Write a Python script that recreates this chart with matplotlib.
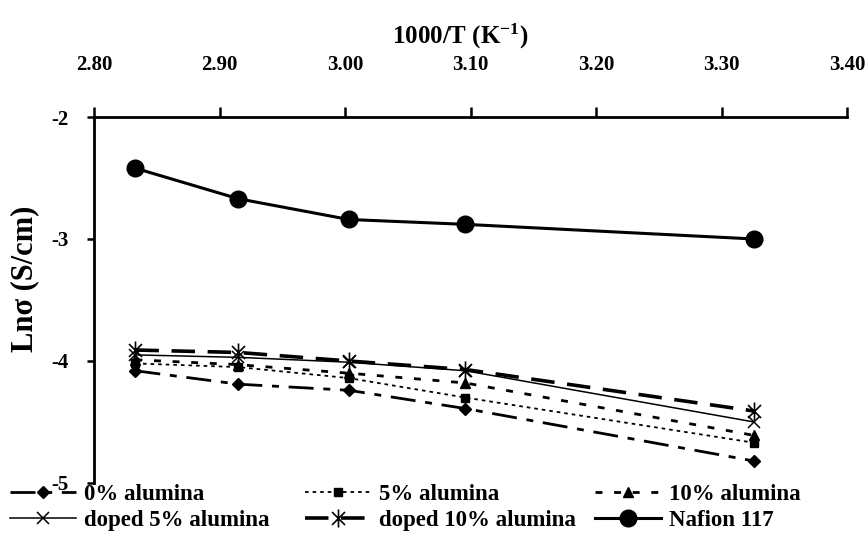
import matplotlib
matplotlib.use('Agg')
import matplotlib.pyplot as plt
from matplotlib.path import Path
from matplotlib.ticker import FormatStrFormatter

plt.rcParams['font.family'] = ['Liberation Serif', 'DejaVu Serif']
plt.rcParams['font.weight'] = 'bold'
plt.rcParams['mathtext.fontset'] = 'custom'
plt.rcParams['mathtext.rm'] = 'Liberation Serif:bold'
plt.rcParams['mathtext.default'] = 'rm'
plt.rcParams['axes.unicode_minus'] = False

# ---- data ----
inv_T = [2.833, 2.915, 3.003, 3.096, 3.326]
alumina_0 = [-4.08, -4.19, -4.24, -4.39, -4.82]
alumina_5 = [-4.02, -4.05, -4.14, -4.30, -4.67]
alumina_10 = [-3.99, -4.03, -4.10, -4.18, -4.61]
doped_5 = [-3.95, -3.97, -4.01, -4.08, -4.50]
doped_10 = [-3.91, -3.93, -4.00, -4.07, -4.41]
nafion = [-2.42, -2.67, -2.84, -2.88, -3.00]

labels = ['0% alumina', '5% alumina', '10% alumina',
          'doped 5% alumina', 'doped 10% alumina', 'Nafion 117']
x_ticks = [2.80, 2.90, 3.00, 3.10, 3.20, 3.30, 3.40]
y_ticks = [-2, -3, -4, -5]

star = Path([(0, -1), (0, 1), (-0.72, -0.72), (0.72, 0.72), (-0.72, 0.72), (0.72, -0.72)],
            [Path.MOVETO, Path.LINETO, Path.MOVETO, Path.LINETO, Path.MOVETO, Path.LINETO])

fig = plt.figure(figsize=(8.68, 5.52), dpi=100)
ax = fig.add_axes([94 / 868, 1 - 483 / 552, (847 - 94) / 868, (483 - 117) / 552])

k = 'black'
h0, = ax.plot(inv_T, alumina_0, color=k, lw=2.0, dashes=(9, 3.5, 2.5, 3.5),
              marker='D', ms=6, mfc=k, mec=k, label=labels[0])
h5, = ax.plot(inv_T, alumina_5, color=k, lw=1.3, dashes=(2, 2.2),
              marker='s', ms=6, mfc=k, mec=k, label=labels[1])
h10, = ax.plot(inv_T, alumina_10, color=k, lw=2.0, dashes=(2.5, 4.2),
               marker='^', ms=7.5, mfc=k, mec=k, label=labels[2])
hd5, = ax.plot(inv_T, doped_5, color=k, lw=1.1, marker='x', ms=8, mew=1.1,
               label=labels[3])
hd10, = ax.plot(inv_T, doped_10, color=k, lw=2.6, dashes=(6.5, 3.5),
                marker=star, ms=13, mew=1.2, mfc='none', mec=k, label=labels[4])
hn, = ax.plot(inv_T, nafion, color=k, lw=2.2, marker='o', ms=12, mfc=k, mec=k,
              label=labels[5])

ax.set_xlim(2.80, 3.40)
ax.set_ylim(-5, -2)
ax.set_xticks(x_ticks)
ax.set_yticks(y_ticks)
ax.xaxis.set_major_formatter(FormatStrFormatter('%.2f'))
ax.yaxis.set_major_formatter(FormatStrFormatter('%d'))
ax.xaxis.tick_top()
ax.xaxis.set_label_position('top')
for s in ['right', 'bottom']:
    ax.spines[s].set_visible(False)
for s in ['left', 'top']:
    ax.spines[s].set_linewidth(2.0)
ax.tick_params(axis='x', direction='out', length=7, width=1.8, pad=23, labelsize=15)
ax.tick_params(axis='y', direction='out', length=5, width=1.8, pad=13, labelsize=15)
for t in ax.get_xticklabels() + ax.get_yticklabels():
    t.set_fontweight('bold')

ax.set_xlabel('1000/T (K$^{-1}$)', fontsize=18, fontweight='bold')
ax.xaxis.set_label_coords((460 - 94) / 753, 1 + (117 - 44) / 366)
ax.set_ylabel('Lnσ (S/cm)', fontsize=22, fontweight='bold')
ax.yaxis.set_label_coords((39 - 94) / 753, (483 - 279) / 366)
ax.patch.set_alpha(0)

common = dict(loc='upper left', frameon=False, fontsize=16.5, borderpad=0,
              borderaxespad=0, handlelength=2.9, handletextpad=0.34,
              labelspacing=0.2)
leg_y = 1 - 484 / 552
l1 = fig.legend([h0, hd5], [labels[0], labels[3]], bbox_to_anchor=(10 / 868, leg_y), **common)
l2 = fig.legend([h5, hd10], [labels[1], labels[4]], bbox_to_anchor=(305 / 868, leg_y), **common)
l3 = fig.legend([h10, hn], [labels[2], labels[5]], bbox_to_anchor=(595 / 868, leg_y), **common)
for lg in (l1, l2, l3):
    for t in lg.get_texts():
        t.set_fontweight('bold')

fig.savefig('out.png', dpi=100)
